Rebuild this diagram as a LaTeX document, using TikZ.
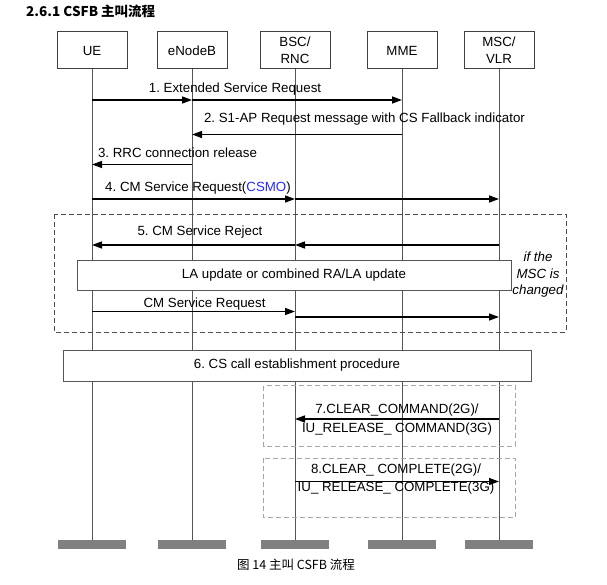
\documentclass[tikz,border=0pt]{standalone}
\usepackage{fontspec}
\setmainfont{Liberation Sans}
\newfontfamily\cjk{Noto Sans CJK SC}
\usetikzlibrary{arrows.meta, positioning}
\definecolor{LineGray}{RGB}{85, 85, 85}
\definecolor{BarGray}{RGB}{128, 128, 128}
\definecolor{CsmoBlue}{RGB}{40, 40, 255}
\frenchspacing

\begin{document}
\begin{tikzpicture}[
    x=1pt, y=-1pt,
    every node/.style={font=\fontsize{13.3}{16}\selectfont, inner sep=0pt},
    head/.style={draw=black!75, line width=1pt, fill=white, align=center,
                 minimum width=70pt, minimum height=37pt},
    foot/.style={fill=BarGray, minimum width=68pt, minimum height=9pt},
    life/.style={draw=LineGray, line width=1pt},
    msg/.style={line width=1.4pt, -{Triangle[length=10pt, width=7pt]}},
    procbox/.style={draw=LineGray, line width=0.8pt, fill=white},
    altbox/.style={draw=black!70, line width=0.9pt, dash pattern=on 5pt off 3pt},
    subbox/.style={draw=black!35, line width=0.9pt, dash pattern=on 5pt off 3pt},
    lbl/.style={align=center, font=\fontsize{13.3}{18.5}\selectfont}
]
\useasboundingbox (0,0) rectangle (607,585);

% title and caption
\node[anchor=west, font=\cjk\bfseries\fontsize{13.5}{16}\selectfont] (title) at (26,11) {2.6.1 CSFB 主叫流程};
\node[font=\cjk\fontsize{12.5}{14}\selectfont] (caption) at (296,564.5) {图 14 主叫 CSFB 流程};

% entities
\node[head] (ue) at (92,50.5) {UE};
\node[head, right=29pt of ue] (enb) {eNodeB};
\node[head, right=32pt of enb] (bsc) {BSC/\\[1pt]RNC};
\node[head, right=36pt of bsc] (mme) {MME};
\node[head, right=26pt of mme] (msc) {MSC/\\[1pt]VLR};

\coordinate (bot) at (0,544.5);
\foreach \n in {ue, enb, bsc, mme, msc} {
    \node[foot] (\n-foot) at (\n |- bot) {};
    \draw[life] (\n.south) -- (\n-foot.north);
}

% message levels
\coordinate (m1) at (0,100);
\coordinate (m2) at (0,134.5);
\coordinate (m3) at (0,164.5);
\coordinate (m4) at (0,199);
\coordinate (m5) at (0,245);
\coordinate (m6a) at (0,311.5);
\coordinate (m6b) at (0,317);
\coordinate (m7) at (0,419);
\coordinate (m8) at (0,481.5);

% dashed frames
\draw[altbox] (54,214) rectangle (566,332);
\draw[subbox] (263.5,385.5) rectangle (515,446);
\draw[subbox] (263.5,458) rectangle (515,517.5);

% procedures
\node[procbox, minimum width=434pt, minimum height=30pt] (laupd) at (294,275) {LA update or combined RA/LA update};
\node[procbox, minimum width=468pt, minimum height=31pt] (csproc) at (297,365.5) {6. CS call establishment procedure};
\node[lbl, font=\fontsize{13.3}{16.5}\selectfont\itshape] (note) at (538,275) {if the\\MSC is\\changed};

% messages
\draw[msg] (ue |- m1) -- (enb |- m1);
\draw[msg] (enb |- m1) -- (mme |- m1);
\draw[msg] (mme |- m2) -- (enb |- m2);
\draw[msg] (enb |- m3) -- (ue |- m3);
\draw[msg] (ue |- m4) -- (bsc |- m4);
\draw[msg] (bsc |- m4) -- (msc |- m4);
\draw[msg] (msc |- m5) -- (bsc |- m5);
\draw[msg] (bsc |- m5) -- (ue |- m5);
\draw[msg] (ue |- m6a) -- (bsc |- m6a);
\draw[msg] (bsc |- m6b) -- (msc |- m6b);
\draw[msg] (msc |- m7) -- (bsc |- m7);
\draw[msg] (bsc |- m8) -- (msc |- m8);

% labels
\node (l1) at (235,89) {1. Extended Service Request};
\node (l2) at (364.5,119.3) {2. S1-AP Request message with CS Fallback indicator};
\node (l3) at (177.5,152.7) {3. RRC connection release};
\node (l4) at (198,187.7) {4. CM Service Request(\textcolor{CsmoBlue}{CSMO})};
\node (l5) at (200,231.7) {5. CM Service Reject};
\node (l6) at (204.5,304) {CM Service Request};
\node[lbl] (l7) at (397,419.7) {7.CLEAR\_COMMAND(2G)/\\IU\_RELEASE\_ COMMAND(3G)};
\node[lbl] (l8) at (396,479.3) {8.CLEAR\_ COMPLETE(2G)/\\IU\_ RELEASE\_ COMPLETE(3G)};
\end{tikzpicture}
\end{document}
